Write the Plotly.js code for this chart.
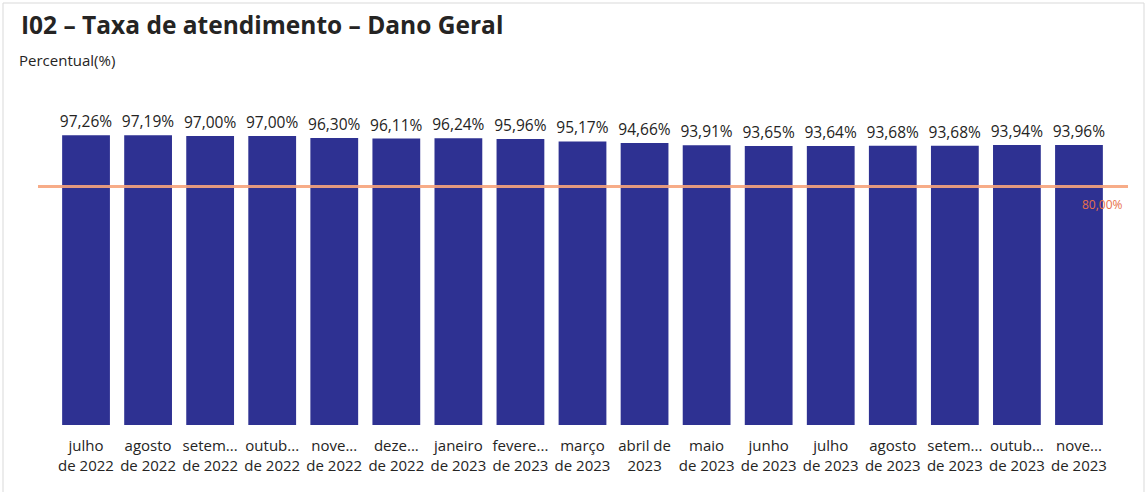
<!DOCTYPE html>
<html>
<head>
<meta charset="utf-8">
<script src="https://cdn.plot.ly/plotly-3.0.1.min.js"></script>
<style>
html,body{margin:0;padding:0;background:#fff;}
#chart{width:1147px;height:492px;}
</style>
</head>
<body>
<div id="chart"></div>
<script>
const months = ["julho<br>de 2022","agosto<br>de 2022","setem...<br>de 2022","outub...<br>de 2022","nove...<br>de 2022","deze...<br>de 2022","janeiro<br>de 2023","fevere...<br>de 2023","março<br>de 2023","abril de<br>2023","maio<br>de 2023","junho<br>de 2023","julho<br>de 2023","agosto<br>de 2023","setem...<br>de 2023","outub...<br>de 2023","nove...<br>de 2023"];
const values = [97.26,97.19,97.00,97.00,96.30,96.11,96.24,95.96,95.17,94.66,93.91,93.65,93.64,93.68,93.68,93.94,93.96];
const target = 80;

const fmt = v => v.toFixed(2).replace('.', ',') + '%';
const cats = months.map((m,i)=>i);

const trace = {
  type:'bar',
  x: cats,
  y: values,
  marker:{color:'#2E3192'},
  text: values.map(fmt),
  textposition:'outside',
  constraintext:'none',
  cliponaxis:false,
  textfont:{family:'Open Sans, Noto Sans, sans-serif', size:15.5, color:'#252423'},
  hoverinfo:'none'
};

const L=55, R=37, W=1147;
const pw = W-L-R;
const layout = {
  width:1147, height:492,
  margin:{l:L, r:R, t:127, b:67},
  paper_bgcolor:'#fff', plot_bgcolor:'#fff',
  showlegend:false,
  bargap:0.23,
  font:{family:'Open Sans, Noto Sans, sans-serif', color:'#252423'},
  xaxis:{
    tickmode:'array', tickvals:cats, ticktext:months,
    showgrid:false, zeroline:false, showline:false, ticks:'',
    tickfont:{size:15, color:'#252423'},
    ticklabelstandoff:10,
    fixedrange:true
  },
  yaxis:{
    range:[0,100], visible:false, fixedrange:true
  },
  shapes:[
    {type:'line', xref:'paper', yref:'y', x0:(38-L)/pw, x1:(1128-L)/pw, y0:target, y1:target,
     line:{color:'#F7A47C', width:3}, layer:'above', opacity:0.9},
    {type:'rect', xref:'paper', yref:'paper', x0:(3-L)/pw, x1:(1144-L)/pw, y0:-1, y1:(127-3)/298+1,
     line:{color:'#d9d9d9', width:1}, fillcolor:'rgba(0,0,0,0)'}
  ],
  annotations:[
    {xref:'paper', yref:'paper', x:(19-L)/pw, y:(425-25)/298, xanchor:'left', yanchor:'middle',
     text:'<b>I02 – Taxa de atendimento – Dano Geral</b>', showarrow:false,
     font:{size:24.5, color:'#252423', family:'Open Sans, Noto Sans, sans-serif'}},
    {xref:'paper', yref:'paper', x:(17-L)/pw, y:(425-60)/298, xanchor:'left', yanchor:'middle',
     text:'Percentual(%)', showarrow:false,
     font:{size:15, color:'#252423'}},
    {xref:'paper', yref:'y', x:(1125-L)/pw, y:target, xanchor:'right', yanchor:'top', yshift:-7,
     text:fmt(target), showarrow:false,
     font:{size:12, color:'#E8704A'}}
  ]
};

Plotly.newPlot('chart',[trace],layout,{displayModeBar:false, staticPlot:true});
</script>
</body>
</html>
